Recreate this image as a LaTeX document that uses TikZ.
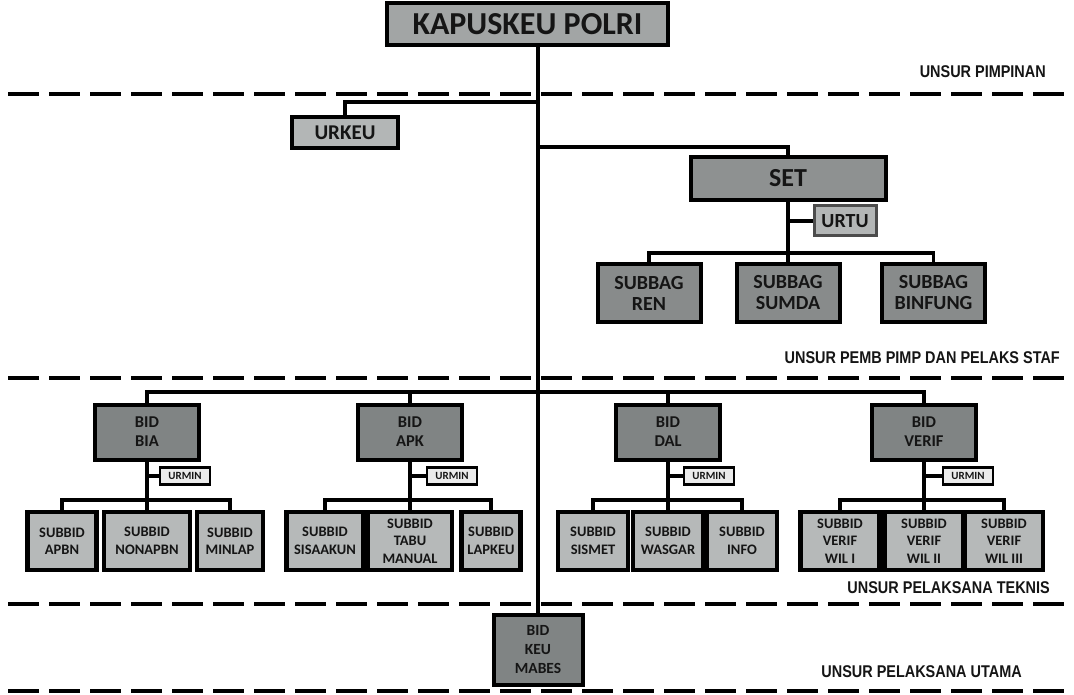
\documentclass[tikz,border=0pt]{standalone}
\usepackage{fontspec}
\setmainfont{Carlito}
\newfontfamily\narrowfont[FakeStretch=0.85]{Liberation Sans}
\definecolor{kapfill}{HTML}{A2A5A5}
\definecolor{setfill}{HTML}{8E9191}
\definecolor{bidfill}{HTML}{808484}
\definecolor{sbgfill}{HTML}{888B8B}
\definecolor{sbdfill}{HTML}{B6B9B9}
\definecolor{urfill}{HTML}{B3B6B6}
\definecolor{txt}{HTML}{151515}
\tikzset{
  box/.style={draw=black, line width=4pt, align=center, inner sep=0pt, text=txt, font=\bfseries},
  conn/.style={draw=black, line width=3.6pt},
  sep/.style={draw=black, line width=4pt, dash pattern=on 31pt off 10pt},
  lbl/.style={text=txt, inner sep=0pt, font=\narrowfont\bfseries\fontsize{17}{18}\selectfont},
  kapbox/.style={box, fill=kapfill, font=\bfseries\fontsize{32}{34}\selectfont},
  setbox/.style={box, fill=setfill, font=\bfseries\fontsize{26}{28}\selectfont},
  urbox/.style={box, fill=urfill, font=\bfseries\fontsize{21}{22}\selectfont},
  urtubox/.style={box, fill=urfill, draw=black!70, line width=3pt, font=\bfseries\fontsize{20}{21}\selectfont},
  sbgbox/.style={box, fill=sbgfill, minimum height=58pt, minimum width=103pt, font=\bfseries\fontsize{20}{21}\selectfont},
  bidbox/.style={box, fill=bidfill, minimum height=55pt, minimum width=104pt, font=\bfseries\fontsize{16.5}{19}\selectfont},
  sbdbox/.style={box, fill=sbdfill, minimum height=58pt, line width=4.5pt, font=\bfseries\fontsize{14.5}{17.5}\selectfont},
  urmin/.style={box, fill=white!92!black, line width=2.5pt, minimum width=50pt, minimum height=17pt, font=\bfseries\fontsize{11}{11}\selectfont},
  keubox/.style={box, fill=bidfill, minimum height=70pt, minimum width=89pt, font=\bfseries\fontsize{15.5}{19}\selectfont}
}
\begin{document}
\begin{tikzpicture}[x=1pt,y=-1pt]
\useasboundingbox (0,0) rectangle (1074,695);
\fill[white] (0,0) rectangle (1074,695);

\draw[sep] (8,94) -- (1074,94);
\draw[sep] (8,378) -- (1074,378);
\draw[sep] (8,604) -- (1074,604);
\draw[sep] (8,691) -- (1074,691);

\node[lbl, anchor=east] (l1) at (1046,72) {UNSUR PIMPINAN};
\node[lbl, anchor=east] (l2) at (1060,358) {UNSUR PEMB PIMP DAN PELAKS STAF};
\node[lbl, anchor=east] (l3) at (1050,588) {UNSUR PELAKSANA TEKNIS};
\node[lbl, anchor=east] (l4) at (1022,672) {UNSUR PELAKSANA UTAMA};

\node[kapbox, minimum width=281pt, minimum height=42pt] (kap) at (527.5,24) {KAPUSKEU POLRI};
\node[keubox] (keu) at (538,650) {BID\\KEU\\MABES};
\node[urbox, minimum width=106pt, minimum height=31pt] (urkeu) at (345,132.5) {URKEU};
\node[setbox, minimum width=195pt, minimum height=43pt] (set) at (788,178.5) {SET};
\node[urtubox, minimum width=62pt, minimum height=30pt] (urtu) at (845,221) {URTU};
\node[sbgbox] (ren) at (649,293) {SUBBAG\\REN};
\node[sbgbox] (sumda) at (788,293) {SUBBAG\\SUMDA};
\node[sbgbox] (binfung) at (933.5,293) {SUBBAG\\BINFUNG};

\node[bidbox] (bia) at (147,432) {BID\\BIA};
\node[bidbox] (apk) at (410,432) {BID\\APK};
\node[bidbox] (dal) at (668,432) {BID\\DAL};
\node[bidbox] (verif) at (924,432) {BID\\VERIF};

\node[urmin] (um1) at (185,476) {URMIN};
\node[urmin] (um2) at (452,476) {URMIN};
\node[urmin] (um3) at (709,476) {URMIN};
\node[urmin] (um4) at (968,476) {URMIN};

\node[sbdbox, minimum width=69pt] (apbn) at (62,541) {SUBBID\\APBN};
\node[sbdbox, minimum width=86pt] (nonapbn) at (147,541) {SUBBID\\NONAPBN};
\node[sbdbox, minimum width=66pt] (minlap) at (230,541) {SUBBID\\MINLAP};

\node[sbdbox, minimum width=77pt] (sisaakun) at (325,541) {SUBBID\\SISAAKUN};
\node[sbdbox, minimum width=84pt] (tabu) at (410,541) {SUBBID\\TABU\\MANUAL};
\node[sbdbox, minimum width=59pt] (lapkeu) at (491,541) {SUBBID\\LAPKEU};

\node[sbdbox, minimum width=70pt] (sismet) at (593,541) {SUBBID\\SISMET};
\node[sbdbox, minimum width=70pt] (wasgar) at (668,541) {SUBBID\\WASGAR};
\node[sbdbox, minimum width=70pt] (info) at (742,541) {SUBBID\\INFO};

\node[sbdbox, minimum width=79pt] (wil1) at (840,541) {SUBBID\\VERIF\\WIL I};
\node[sbdbox, minimum width=79pt] (wil2) at (924,541) {SUBBID\\VERIF\\WIL II};
\node[sbdbox, minimum width=78pt] (wil3) at (1004,541) {SUBBID\\VERIF\\WIL III};

\coordinate (jurkeu) at (538,102);
\coordinate (jset) at (538,147);
\coordinate (ysb) at (0,253);
\coordinate (ybid) at (0,392);
\coordinate (ysub) at (0,500);

\draw[conn] (kap.south -| keu.north) -- (keu.north);
\draw[conn] (urkeu.north) |- (jurkeu);
\draw[conn] (jset) -| (set.north);
\draw[conn] (set.south) -- (set.south |- ysb);
\draw[conn] (set.south |- urtu.west) -- (urtu.west);
\draw[conn] (ren.north) -- (ren.north |- ysb) -- (binfung.north |- ysb) -- (binfung.north);
\draw[conn] (sumda.north) -- (sumda.north |- ysb);

\draw[conn] (bia.north) -- (bia.north |- ybid) -- (verif.north |- ybid) -- (verif.north);
\draw[conn] (apk.north) -- (apk.north |- ybid);
\draw[conn] (dal.north) -- (dal.north |- ybid);

\draw[conn] (bia.south) -- (bia.south |- ysub);
\draw[conn] (bia.south |- um1.west) -- (um1.west);
\draw[conn] (apbn.north) -- (apbn.north |- ysub) -- (minlap.north |- ysub) -- (minlap.north);
\draw[conn] (nonapbn.north) -- (nonapbn.north |- ysub);

\draw[conn] (apk.south) -- (apk.south |- ysub);
\draw[conn] (apk.south |- um2.west) -- (um2.west);
\draw[conn] (sisaakun.north) -- (sisaakun.north |- ysub) -- (lapkeu.north |- ysub) -- (lapkeu.north);
\draw[conn] (tabu.north) -- (tabu.north |- ysub);

\draw[conn] (dal.south) -- (dal.south |- ysub);
\draw[conn] (dal.south |- um3.west) -- (um3.west);
\draw[conn] (sismet.north) -- (sismet.north |- ysub) -- (info.north |- ysub) -- (info.north);
\draw[conn] (wasgar.north) -- (wasgar.north |- ysub);

\draw[conn] (verif.south) -- (verif.south |- ysub);
\draw[conn] (verif.south |- um4.west) -- (um4.west);
\draw[conn] (wil1.north) -- (wil1.north |- ysub) -- (wil3.north |- ysub) -- (wil3.north);
\draw[conn] (wil2.north) -- (wil2.north |- ysub);
\end{tikzpicture}
\end{document}
